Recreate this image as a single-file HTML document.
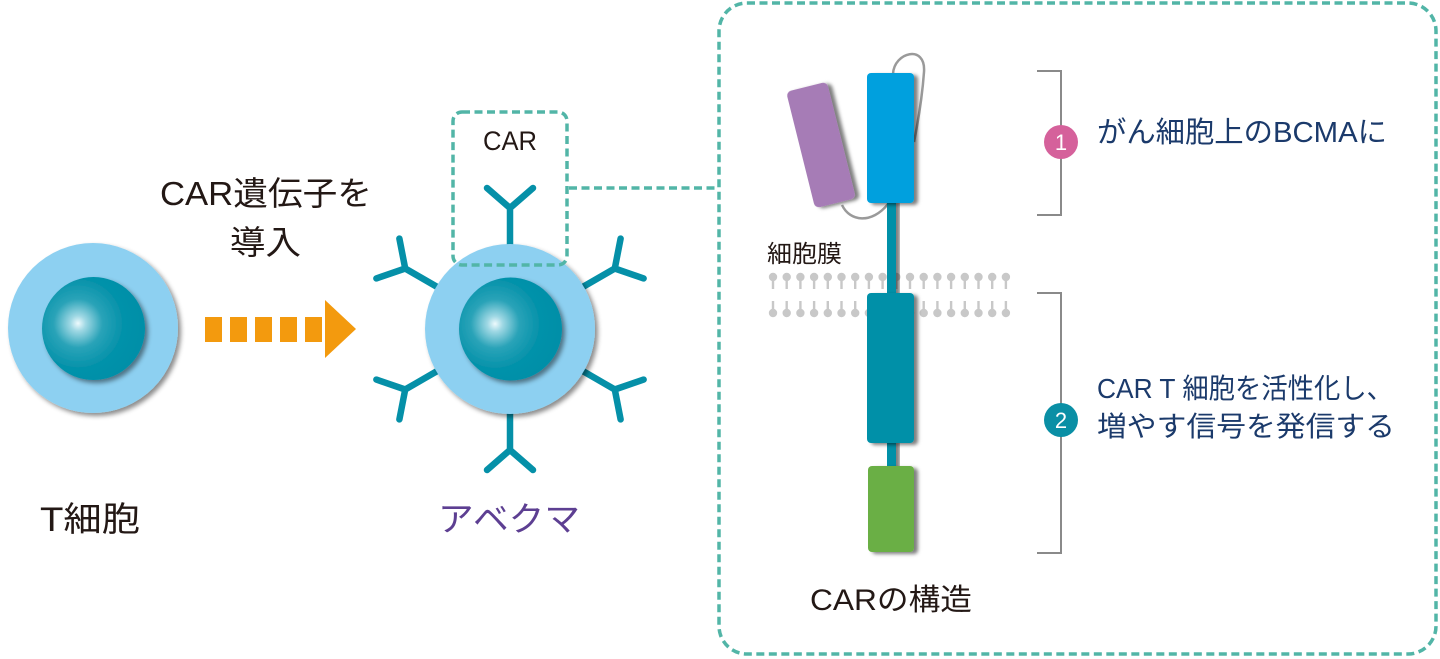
<!DOCTYPE html>
<html><head><meta charset="utf-8"><style>
html,body{margin:0;padding:0;background:#fff;}
svg{display:block;}
text{font-family:"Liberation Sans","Noto Sans CJK JP",sans-serif;}
</style></head><body>
<svg width="1440" height="659" viewBox="0 0 1440 659" xmlns="http://www.w3.org/2000/svg">
<defs>
<radialGradient id="nuc" cx="0.35" cy="0.45" r="0.62" fx="0.35" fy="0.45">
<stop offset="0" stop-color="#eefafd"/>
<stop offset="0.12" stop-color="#9fd8e4"/>
<stop offset="0.38" stop-color="#2aa3b8"/>
<stop offset="0.7" stop-color="#0592aa"/>
<stop offset="1" stop-color="#008fa8"/>
</radialGradient>
<filter id="sh" x="-20%" y="-20%" width="150%" height="150%">
<feDropShadow dx="3" dy="3" stdDeviation="2.5" flood-color="#000" flood-opacity="0.45"/>
</filter>
<filter id="sh2" x="-30%" y="-10%" width="170%" height="130%">
<feDropShadow dx="4" dy="2" stdDeviation="1.8" flood-color="#000" flood-opacity="0.5"/>
</filter>
</defs>

<!-- Big dashed box -->
<rect x="719" y="3" width="717" height="651" rx="28" fill="none" stroke="#52b5a7" stroke-width="3.5" stroke-dasharray="8 4.5"/>

<!-- T cell -->
<circle cx="93" cy="328" r="85" fill="#8dd0f1" filter="url(#sh)"/>
<circle cx="93.5" cy="328.5" r="51.5" fill="url(#nuc)" filter="url(#sh)"/>

<!-- Arrow -->
<g fill="#f39a0e">
<rect x="205" y="317" width="17" height="25"/>
<rect x="230" y="317" width="17" height="25"/>
<rect x="255" y="317" width="17" height="25"/>
<rect x="280" y="317" width="17" height="25"/>
<rect x="305" y="317" width="17" height="25"/>
<polygon points="325,300 356,329 325,358"/>
</g>

<!-- Texts left -->
<text x="160" y="205" font-size="33" fill="#231815" textLength="212" lengthAdjust="spacingAndGlyphs">CAR遺伝子を</text>
<text x="230" y="254" font-size="33" fill="#231815" textLength="71" lengthAdjust="spacingAndGlyphs">導入</text>
<text x="40" y="531" font-size="34" fill="#231815" textLength="100" lengthAdjust="spacingAndGlyphs">T細胞</text>
<text x="438" y="531" font-size="34" fill="#5d3f92" textLength="142" lengthAdjust="spacingAndGlyphs">アベクマ</text>

<!-- Abecma cell receptors -->
<g stroke="#0590a8" stroke-width="6.5" stroke-linecap="round" stroke-linejoin="round" fill="none">
<g id="ry"><path d="M510,250 L510,208 M487,188 L510,208 L533,188"/></g>
<use href="#ry" transform="rotate(60 510 329)"/>
<use href="#ry" transform="rotate(120 510 329)"/>
<use href="#ry" transform="rotate(180 510 329)"/>
<use href="#ry" transform="rotate(240 510 329)"/>
<use href="#ry" transform="rotate(300 510 329)"/>
</g>
<circle cx="510" cy="329" r="85" fill="#8dd0f1" filter="url(#sh)"/>
<circle cx="510.5" cy="329" r="51.5" fill="url(#nuc)" filter="url(#sh)"/>

<!-- small CAR box + connector -->
<rect x="453" y="112" width="114" height="153" rx="9" fill="none" stroke="#52b5a7" stroke-width="3.5" stroke-dasharray="8 4.5"/>
<line x1="569" y1="188" x2="719" y2="188" stroke="#52b5a7" stroke-width="3.5" stroke-dasharray="8 4.5"/>
<text x="483" y="150" font-size="27" fill="#231815" textLength="54" lengthAdjust="spacingAndGlyphs">CAR</text>

<!-- Membrane -->
<g id="mem" fill="#c6c6c6" stroke="#c6c6c6">
</g>
<g stroke="#c8c8c8" stroke-width="2.4" fill="#c8c8c8">
<path d="M773,277v12M786.7,277v12M800.4,277v12M814.1,277v12M827.8,277v12M841.5,277v12M855.2,277v12M868.9,277v12M882.6,277v12M896.3,277v12M910,277v12M923.7,277v12M937.4,277v12M951.1,277v12M964.8,277v12M978.5,277v12M992.2,277v12M1005.9,277v12"/>
<path d="M773,301v12M786.7,301v12M800.4,301v12M814.1,301v12M827.8,301v12M841.5,301v12M855.2,301v12M868.9,301v12M882.6,301v12M896.3,301v12M910,301v12M923.7,301v12M937.4,301v12M951.1,301v12M964.8,301v12M978.5,301v12M992.2,301v12M1005.9,301v12"/>
</g>
<g fill="#c8c8c8">
<circle cx="773" cy="277" r="4.2"/><circle cx="786.7" cy="277" r="4.2"/><circle cx="800.4" cy="277" r="4.2"/><circle cx="814.1" cy="277" r="4.2"/><circle cx="827.8" cy="277" r="4.2"/><circle cx="841.5" cy="277" r="4.2"/><circle cx="855.2" cy="277" r="4.2"/><circle cx="868.9" cy="277" r="4.2"/><circle cx="882.6" cy="277" r="4.2"/><circle cx="896.3" cy="277" r="4.2"/><circle cx="910" cy="277" r="4.2"/><circle cx="923.7" cy="277" r="4.2"/><circle cx="937.4" cy="277" r="4.2"/><circle cx="951.1" cy="277" r="4.2"/><circle cx="964.8" cy="277" r="4.2"/><circle cx="978.5" cy="277" r="4.2"/><circle cx="992.2" cy="277" r="4.2"/><circle cx="1005.9" cy="277" r="4.2"/>
<circle cx="773" cy="313" r="4.2"/><circle cx="786.7" cy="313" r="4.2"/><circle cx="800.4" cy="313" r="4.2"/><circle cx="814.1" cy="313" r="4.2"/><circle cx="827.8" cy="313" r="4.2"/><circle cx="841.5" cy="313" r="4.2"/><circle cx="855.2" cy="313" r="4.2"/><circle cx="868.9" cy="313" r="4.2"/><circle cx="882.6" cy="313" r="4.2"/><circle cx="896.3" cy="313" r="4.2"/><circle cx="910" cy="313" r="4.2"/><circle cx="923.7" cy="313" r="4.2"/><circle cx="937.4" cy="313" r="4.2"/><circle cx="951.1" cy="313" r="4.2"/><circle cx="964.8" cy="313" r="4.2"/><circle cx="978.5" cy="313" r="4.2"/><circle cx="992.2" cy="313" r="4.2"/><circle cx="1005.9" cy="313" r="4.2"/>
</g>
<text x="767" y="262" font-size="24" fill="#231815" textLength="75" lengthAdjust="spacingAndGlyphs">細胞膜</text>

<!-- CAR structure -->
<path d="M893,74 C894,52 926,44 924,72 C922,100 918,122 914,142" fill="none" stroke="#9a9a9a" stroke-width="2.5"/>
<path d="M842,205 C850,222 872,224 888,204" fill="none" stroke="#9a9a9a" stroke-width="2.5"/>
<rect x="887" y="200" width="9" height="98" fill="#0590a8" filter="url(#sh2)"/>
<rect x="887" y="440" width="9" height="30" fill="#0590a8" filter="url(#sh2)"/>
<rect x="800" y="85" width="42" height="120" rx="5" fill="#a67cb6" transform="rotate(-14 821 145)" filter="url(#sh2)"/>
<rect x="867" y="73" width="47" height="130" rx="4" fill="#06a0de" filter="url(#sh2)"/>
<rect x="867" y="293" width="47" height="150" rx="4" fill="#0590a8" filter="url(#sh2)"/>
<rect x="868" y="466" width="46" height="86" rx="4" fill="#6aaf45" filter="url(#sh2)"/>
<text x="810" y="610" font-size="30" fill="#231815" textLength="162" lengthAdjust="spacingAndGlyphs">CARの構造</text>

<!-- Brackets -->
<path d="M1037,71 H1061 V215 H1037" fill="none" stroke="#8a8a8a" stroke-width="2"/>
<path d="M1037,293 H1061 V553 H1037" fill="none" stroke="#8a8a8a" stroke-width="2"/>
<circle cx="1061" cy="142" r="17" fill="#d5619b"/>
<text x="1061" y="150" font-size="22" fill="#fff" text-anchor="middle">1</text>
<circle cx="1061" cy="420" r="17" fill="#0a8fa5"/>
<text x="1061" y="428" font-size="22" fill="#fff" text-anchor="middle">2</text>

<text x="1097" y="142" font-size="29" fill="#1b3a6b" textLength="290" lengthAdjust="spacingAndGlyphs">がん細胞上のBCMAに</text>
<text x="1097" y="398" font-size="28" fill="#1b3a6b" textLength="296" lengthAdjust="spacingAndGlyphs">CAR T 細胞を活性化し、</text>
<text x="1097" y="436" font-size="28" fill="#1b3a6b" textLength="298" lengthAdjust="spacingAndGlyphs">増やす信号を発信する</text>
</svg>
</body></html>
